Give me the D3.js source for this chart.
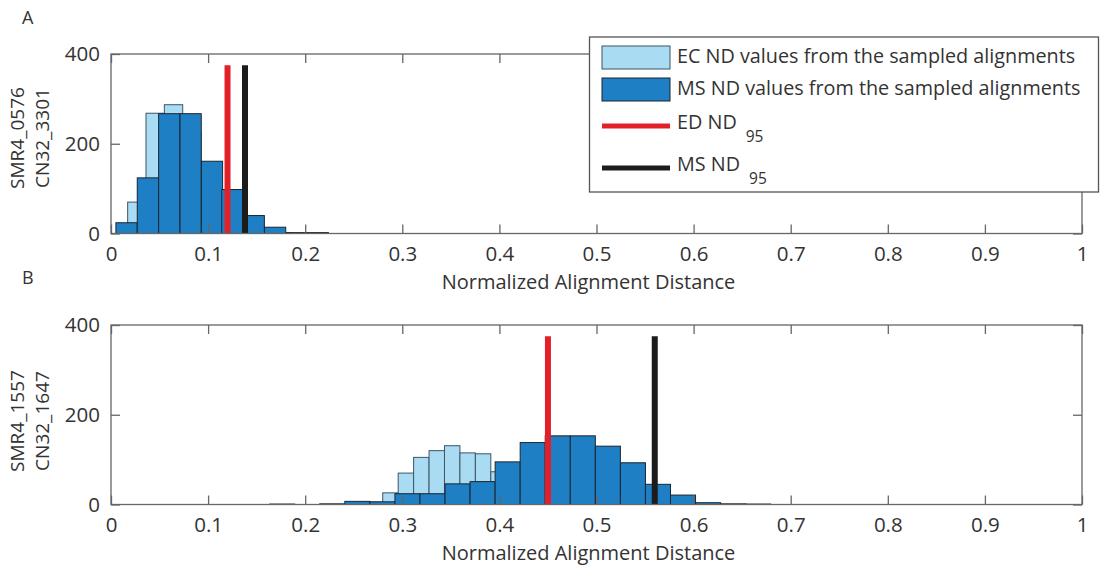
<!DOCTYPE html>
<html><head><meta charset="utf-8">
<script src="https://cdn.jsdelivr.net/npm/d3@7/dist/d3.min.js"></script>
<style>
html,body{margin:0;padding:0;background:#fff;}
svg text{font-family:"Open Sans","Noto Sans",sans-serif;fill:#333;}
</style></head>
<body>
<svg id="chart" width="1111" height="567"></svg>
<script>
// ---------------- data ----------------
const xTicks = [0, 0.1, 0.2, 0.3, 0.4, 0.5, 0.6, 0.7, 0.8, 0.9, 1];
const yTicks = [0, 200, 400];
const xLabel = "Normalized Alignment Distance";
const legendLabels = ["EC ND values from the sampled alignments", "MS ND values from the sampled alignments", "ED ND", "MS ND"];
const legendSub = "95";

// Panel A (SMR4_0576 / CN32_3301)
const aTitle = "A";
const aYLabel = ["SMR4_0576", "CN32_3301"];
const aEcBinWidth = 0.0189;
const aEcCenters = [0.0266, 0.0455, 0.0644, 0.0833, 0.1021, 0.1210, 0.1399, 0.1588, 0.1776];
const aEcCounts  = [70, 268, 287, 225, 135, 70, 30, 8, 2];
const aMsBinWidth = 0.0219;
const aMsCenters = [0.016, 0.038, 0.060, 0.082, 0.104, 0.125, 0.147, 0.169, 0.191, 0.213];
const aMsCounts  = [24, 124, 267, 267, 161, 98, 40, 14, 2, 2];
const aEdNd95 = 0.120;
const aMsNd95 = 0.138;

// Panel B (SMR4_1557 / CN32_1647)
const bTitle = "B";
const bYLabel = ["SMR4_1557", "CN32_1647"];
const bEcBinWidth = 0.0159;
const bEcCenters = [0.2560, 0.2719, 0.2878, 0.3037, 0.3196, 0.3355, 0.3514, 0.3673, 0.3832, 0.3991, 0.4150, 0.4309, 0.4468, 0.4627, 0.4786];
const bEcCounts  = [2, 5, 26, 70, 105, 120, 131, 115, 113, 73, 50, 28, 14, 6, 2];
const bMsBinWidth = 0.0258;
const bMsCenters = [0.1763, 0.2021, 0.2279, 0.2537, 0.2795, 0.3053, 0.3311, 0.3569, 0.3827, 0.4085, 0.4343, 0.4601, 0.4859, 0.5117, 0.5375, 0.5633, 0.5891, 0.6149, 0.6407, 0.6665];
const bMsCounts  = [1, 0, 1.5, 7, 6, 24, 24, 46, 51, 95, 138, 153, 153, 130, 93, 45, 21, 4, 1.5, 1];
const bEdNd95 = 0.450;
const bMsNd95 = 0.560;

const ndLineHeight = 375;

// ---------------- style ----------------
const C = {
  ec: "#a9dbf3", ecStroke: "#3d5566",
  ms: "#1f7fc5", msStroke: "#1b2530",
  red: "#e3202a", black: "#1c1c1c",
  axis: "#666", text: "#333"
};

const svg = d3.select("#chart");
const X0 = 111, X1 = 1082;

const panels = [
  {title: aTitle, ylab: aYLabel, top: 54, bottom: 233.5, titleY: 24, ylabCenter: 138,
   ec: {w: aEcBinWidth, c: aEcCenters, v: aEcCounts}, ms: {w: aMsBinWidth, c: aMsCenters, v: aMsCounts},
   ed: aEdNd95, msnd: aMsNd95},
  {title: bTitle, ylab: bYLabel, top: 325, bottom: 504.5, titleY: 284, ylabCenter: 421,
   ec: {w: bEcBinWidth, c: bEcCenters, v: bEcCounts}, ms: {w: bMsBinWidth, c: bMsCenters, v: bMsCounts},
   ed: bEdNd95, msnd: bMsNd95}
];

panels.forEach(p => {
  const x = d3.scaleLinear().domain([0, 1]).range([X0, X1]);
  const y = d3.scaleLinear().domain([0, 400]).range([p.bottom, p.top]);
  const g = svg.append("g");

  function bars(set, fill, stroke) {
    const data = set.c.map((c, i) => ({c, v: set.v[i]}));
    g.append("g").selectAll("rect").data(data).join("rect")
      .attr("x", d => x(d.c - set.w / 2))
      .attr("width", d => x(d.c + set.w / 2) - x(d.c - set.w / 2))
      .attr("y", d => y(d.v))
      .attr("height", d => y(0) - y(d.v))
      .attr("fill", fill).attr("stroke", stroke).attr("stroke-width", 1);
  }
  bars(p.ec, C.ec, C.ecStroke);
  bars(p.ms, C.ms, C.msStroke);

  [[p.ed, C.red], [p.msnd, C.black]].forEach(([v, col]) => {
    g.append("line").attr("x1", x(v)).attr("x2", x(v))
      .attr("y1", y(0)).attr("y2", y(ndLineHeight))
      .attr("stroke", col).attr("stroke-width", 6);
  });

  // axes box with inward ticks
  const ax = svg.append("g").attr("stroke", C.axis).attr("fill", "none");
  ax.append("rect").attr("x", X0).attr("y", p.top).attr("width", X1 - X0).attr("height", p.bottom - p.top)
    .attr("stroke-width", 1.3);
  const tl = 9;
  const bAx = d3.axisBottom(x).tickValues(xTicks).tickSize(-tl).tickFormat(d3.format("~g")).tickPadding(13);
  const tAx = d3.axisTop(x).tickValues(xTicks).tickSize(-tl).tickFormat("");
  const lAx = d3.axisLeft(y).tickValues(yTicks).tickSize(-tl).tickPadding(11);
  const rAx = d3.axisRight(y).tickValues(yTicks).tickSize(-tl).tickFormat("");
  [[bAx, `translate(0,${p.bottom})`], [tAx, `translate(0,${p.top})`], [lAx, `translate(${X0},0)`], [rAx, `translate(${X1},0)`]]
    .forEach(([a, t]) => {
      const gg = svg.append("g").attr("transform", t).call(a);
      gg.select(".domain").remove();
      gg.selectAll(".tick line").attr("stroke", C.axis).attr("stroke-width", 1.3);
      gg.selectAll("text").attr("font-size", 20.5).attr("fill", C.text)
        .style("font-family", '"Open Sans", sans-serif');
    });

  svg.append("text").attr("x", (X0 + X1) / 2 - 8).attr("y", p.bottom + 55)
    .attr("text-anchor", "middle").attr("font-size", 20).text(xLabel);

  p.ylab.forEach((t, i) => {
    svg.append("text")
      .attr("transform", `translate(${23.5 + i * 25.5},${p.ylabCenter}) rotate(-90)`)
      .attr("text-anchor", "middle").attr("font-size", 19).text(t);
  });

  svg.append("text").attr("x", 22).attr("y", p.titleY).attr("font-size", 18).text(p.title);
});

// ---------------- legend ----------------
const lg = svg.append("g");
lg.append("rect").attr("x", 589.5).attr("y", 37).attr("width", 509).attr("height", 155)
  .attr("fill", "#fff").attr("stroke", "#555").attr("stroke-width", 1.3);
const px = 602, pw = 68, tx = 677;
lg.append("rect").attr("x", px).attr("y", 46).attr("width", pw).attr("height", 23)
  .attr("fill", C.ec).attr("stroke", C.ecStroke).attr("stroke-width", 1);
lg.append("rect").attr("x", px).attr("y", 78).attr("width", pw).attr("height", 23)
  .attr("fill", C.ms).attr("stroke", C.msStroke).attr("stroke-width", 1);
lg.append("line").attr("x1", px).attr("x2", px + pw).attr("y1", 126).attr("y2", 126)
  .attr("stroke", C.red).attr("stroke-width", 5);
lg.append("line").attr("x1", px).attr("x2", px + pw).attr("y1", 168).attr("y2", 168)
  .attr("stroke", C.black).attr("stroke-width", 5);
const baselines = [63, 95, 129, 171];
legendLabels.forEach((t, i) => {
  const te = lg.append("text").attr("x", tx).attr("y", baselines[i]).attr("font-size", 19.8).text(t);
  if (i >= 2) {
    te.append("tspan").attr("dx", 9).attr("dy", 13).attr("font-size", 15.5).text(legendSub);
  }
});
</script>
</body></html>
